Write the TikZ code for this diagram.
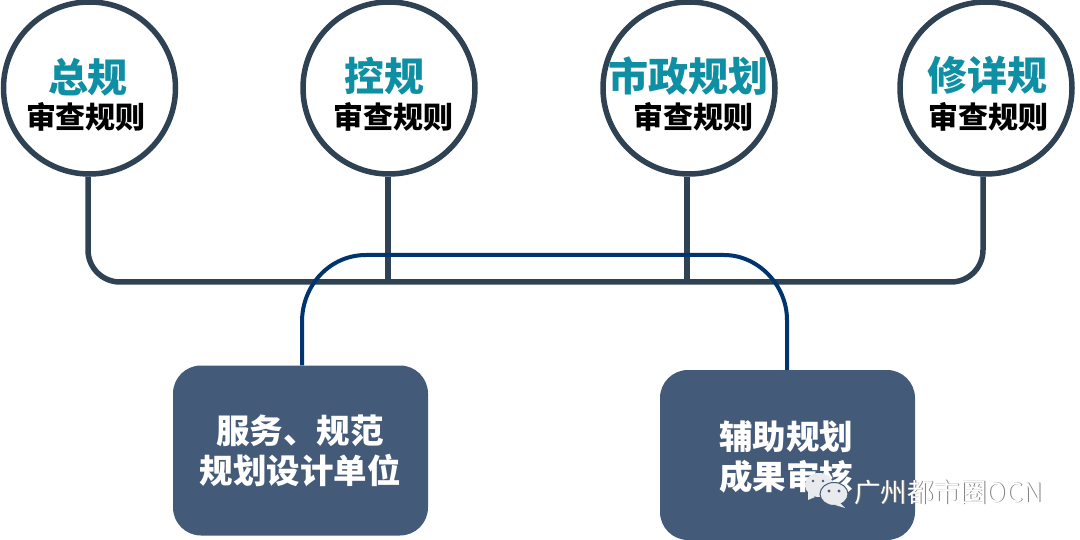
\documentclass[tikz,border=0pt]{standalone}
\usepackage{fontspec}
\setmainfont{Noto Sans CJK SC}
\newfontfamily\wmfont{Noto Sans CJK SC}
\definecolor{ringc}{HTML}{2F4254}
\definecolor{tealc}{HTML}{0E8FA3}
\definecolor{navyc}{HTML}{00346E}
\definecolor{boxc}{HTML}{445A79}
\definecolor{wmc}{HTML}{E8EAED}
\tikzset{
  x=1pt,y=-1pt,
  ring/.style={circle,draw=ringc,line width=5.5pt,fill=white,minimum size=172pt,inner sep=0pt},
  busline/.style={draw=ringc,line width=5.5pt},
  linkline/.style={draw=navyc,line width=4pt},
  bigt/.style={inner sep=0pt,text=tealc,font=\fontsize{40}{42}\selectfont\bfseries},
  subt/.style={inner sep=0pt,text=black,font=\fontsize{30}{32}\selectfont\bfseries},
  dbox/.style={rounded corners=28pt,fill=boxc,minimum width=255pt,minimum height=170pt,inner sep=0pt},
  boxt/.style={inner sep=0pt,text=white,align=center,font=\fontsize{33.5}{40}\selectfont\bfseries},
}
\begin{document}
\begin{tikzpicture}
\useasboundingbox (0,0) rectangle (1080,540);
\fill[white] (0,0) rectangle (1080,540);
% boxes
\node[dbox] (bl) at (300.5,450.5) {};
\node[dbox] (br) at (787.5,455) {};
% rings
\node[ring] (c1) at (89.5,88) {};
\node[ring] (c2) at (389,88) {};
\node[ring] (c3) at (689,88) {};
\node[ring] (c4) at (986,88) {};
% bus
\coordinate (b1) at (88,282);
\coordinate (b2) at (388,282);
\coordinate (b3) at (687,282);
\coordinate (b4) at (983,282);
\path[busline,rounded corners=32pt] (c1.south -| b1) -- (b1) -- (b4) -- (c4.south -| b4);
\path[busline] (c2.south -| b2) -- (b2);
\path[busline] (c3.south -| b3) -- (b3);
% links
\coordinate (l1) at (302,322);
\coordinate (l2) at (366,255);
\coordinate (l3) at (724,255);
\coordinate (l4) at (787,320);
\path[linkline] (bl.north -| l1) -- (l1) .. controls (302,285) and (330,255) .. (l2) -- (l3) .. controls (758,255) and (787,285) .. (l4) -- (br.north -| l4);
% labels
\node[bigt] (t1) at (88,77) {总规};
\node[subt] (s1) at (86,117) {审查规则};
\node[bigt] (t2) at (384,76) {控规};
\node[subt] (s2) at (393,117) {审查规则};
\node[bigt] (t3) at (688,76) {市政规划};
\node[subt] (s3) at (693,117) {审查规则};
\node[bigt] (t4) at (987,75) {修详规};
\node[subt] (s4) at (988,117) {审查规则};
\node[boxt] (x1) at (300,450.5) {服务、规范\\规划设计单位};
\node[boxt] (x2) at (786,456.5) {辅助规划\\成果审核};
% watermark
\fill[wmc] (819,485) ellipse (14 and 12);
\fill[wmc] (808,492) -- (815,497) -- (808,500) -- cycle;
\fill[wmc,draw=boxc,line width=1pt] (834,494) ellipse (14 and 11.5);
\fill[wmc] (840,503) -- (845,508) -- (835,505) -- cycle;
\fill[boxc] (829,491) circle (1.6) (839,491) circle (1.6) (813,481) circle (1.3) (823,481) circle (1.3);
\node[inner sep=0pt,anchor=west,text=gray] (wm0) at (854.8,492.8) {\wmfont\fontsize{26.5}{28}\selectfont 广州都市圈OCN};
\node[inner sep=0pt,anchor=west,text=white] (wm) at (854,492) {\wmfont\fontsize{26.5}{28}\selectfont 广州都市圈OCN};
\end{tikzpicture}
\end{document}
